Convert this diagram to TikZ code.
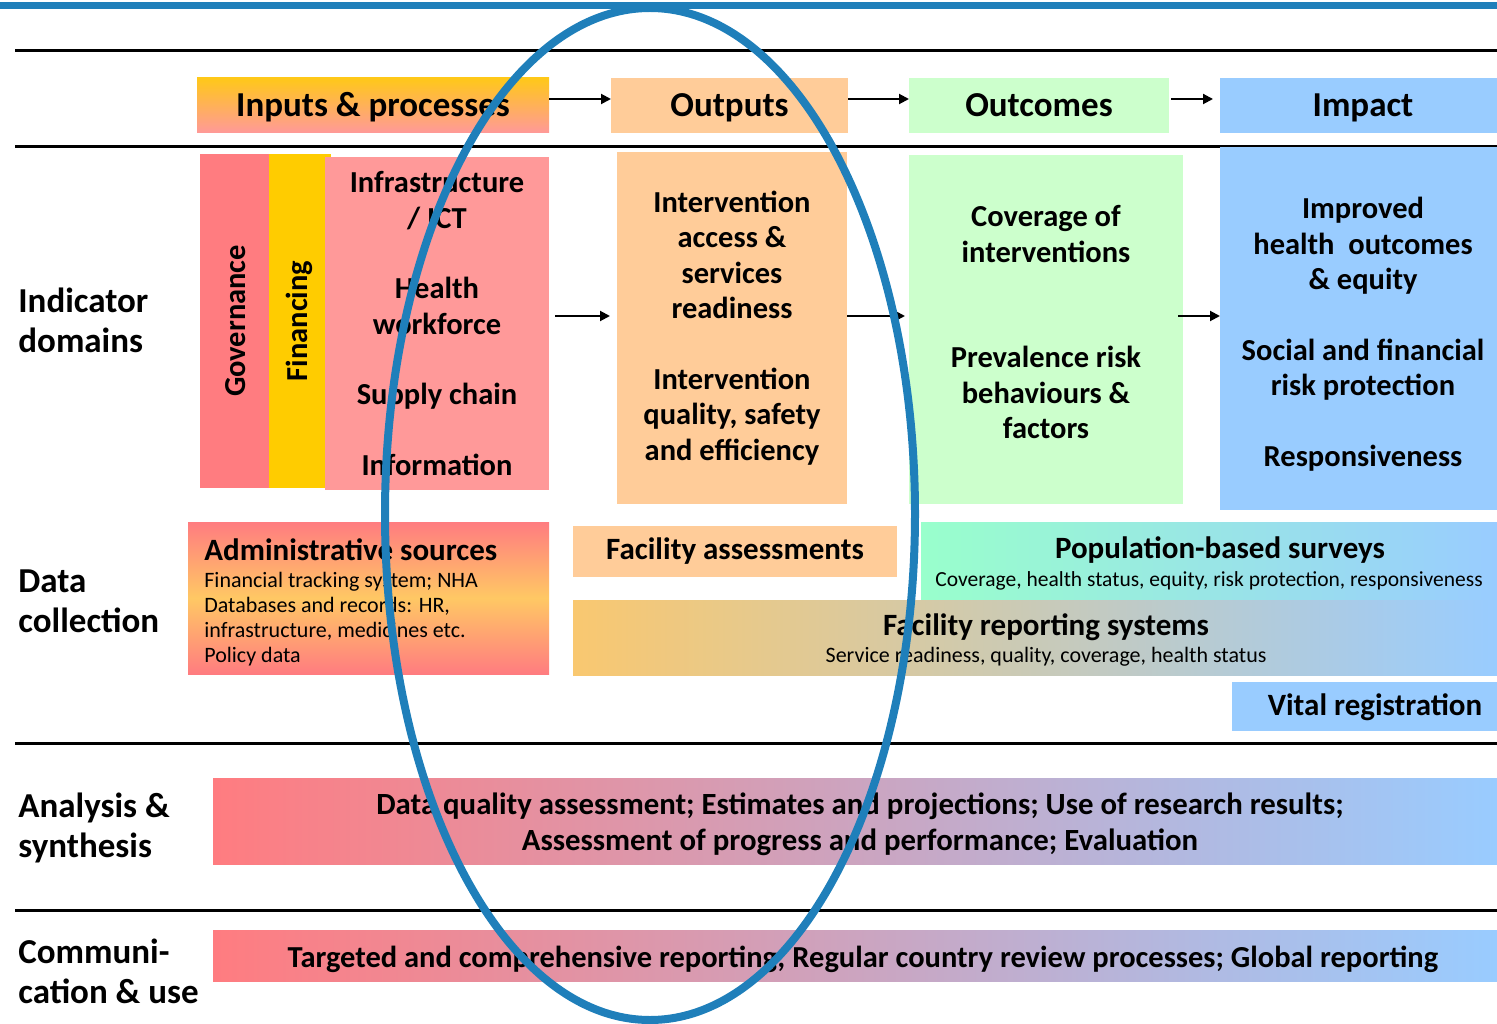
\documentclass[tikz,border=0pt]{standalone}
\usepackage{fontspec}
\setmainfont{Carlito}
\usetikzlibrary{arrows.meta}

\definecolor{ringblue}{RGB}{31,127,186}
\definecolor{govred}{RGB}{255,124,128}
\definecolor{goldfill}{RGB}{255,204,0}
\definecolor{hdgold}{RGB}{255,200,25}
\definecolor{pinkfill}{RGB}{255,153,153}
\definecolor{peach}{RGB}{255,204,153}
\definecolor{mint}{RGB}{204,255,204}
\definecolor{sky}{RGB}{153,204,255}
\definecolor{seafoam}{RGB}{153,255,204}
\definecolor{admyellow}{RGB}{255,200,100}
\definecolor{repyellow}{RGB}{249,200,112}

\tikzset{every picture/.style={line width=0.75pt}}
\tikzset{
  box/.style={inner sep=0pt, outer sep=0pt, anchor=center},
  hdfont/.style={font={\fontsize{35}{40}\selectfont\bfseries}, text height=31pt, text depth=8.6pt},
  bodyfont/.style={font={\fontsize{30.5}{35.5}\selectfont\bfseries}, align=center},
  sidefont/.style={font={\fontsize{35}{40}\selectfont\bfseries}, align=left, inner sep=0pt},
  subhead/.style={font={\fontsize{31}{36}\selectfont\bfseries}, inner sep=0pt},
  detail/.style={font={\fontsize{22}{25}\selectfont}, inner sep=0pt},
  flow/.style={-{Triangle[length=10pt,width=10pt]}, line width=2pt},
  rowrule/.style={line width=3pt},
  ring/.style={draw=ringblue, line width=8pt},
}

\begin{document}
\begin{tikzpicture}[x=1pt,y=1pt,yscale=-1]
\useasboundingbox (0,0) rectangle (1497,1024);

% rules
\draw [ringblue, line width=7pt] (0,6) -- (1497,6);
\foreach \y in {51,147,743,910}
  \draw [rowrule] (15,\y) -- (1497,\y);

% side labels
\node [sidefont, anchor=west] (lbldom) at (18,320) {Indicator\\domains};
\node [sidefont, anchor=west] (lbldata) at (18,601) {Data\\collection};
\node [sidefont, anchor=west] (lblana) at (18,828) {Analysis \&\\synthesis};
\node [sidefont, anchor=west] (lblcom) at (18,971) {Communi-\\cation \& use};

% header row
\node [box, hdfont, top color=hdgold, bottom color=pinkfill, minimum width=352, minimum height=55] (inp) at (373,105.5) {Inputs \& processes};
\node [box, hdfont, fill=peach, minimum width=237, minimum height=55] (outp) at (729.5,105.5) {Outputs};
\node [box, hdfont, fill=mint, minimum width=260, minimum height=55] (outc) at (1039,105.5) {Outcomes};
\node [box, fill=sky, minimum width=277, minimum height=55] (imp) at (1358.5,105.5) {};
\node [hdfont, inner sep=0pt] (imptxt) at (1363,105.5) {Impact};

\coordinate (hdrow) at (0,99);
\draw [flow] (inp.east |- hdrow) -- (outp.west |- hdrow);
\draw [flow] (outp.east |- hdrow) -- (outc.west |- hdrow);
\draw [flow, shorten <=2pt, shorten >=7pt] (outc.east |- hdrow) -- (imp.west |- hdrow);

% indicator domains
\node [box, fill=govred, minimum width=69, minimum height=334] (gov) at (234.5,321) {};
\node [bodyfont, rotate=90] (govtxt) at (236,321) {Governance};
\node [box, fill=goldfill, minimum width=62, minimum height=334] (fin) at (300,321) {};
\node [bodyfont, rotate=90] (fintxt) at (299,321) {Financing};
\node [box, bodyfont, fill=pinkfill, minimum width=224, minimum height=333] (infra) at (437,323.5)
  {Infrastructure\\/ ICT\\[35pt]Health\\workforce\\[35pt]Supply chain\\[35pt]Information};
\node [box, bodyfont, fill=peach, minimum width=230, minimum height=352] (outpb) at (732,328)
  {Intervention\\access \&\\services\\readiness\\[35pt]Intervention\\quality, safety\\and efficiency};
\node [box, fill=mint, minimum width=274, minimum height=349] (outcb) at (1046,329.5) {};
\node [bodyfont] (outctxt) at (1046,322.5)
  {Coverage of\\interventions\\[70pt]Prevalence risk\\behaviours \&\\factors};
\node [box, fill=sky, minimum width=277, minimum height=363] (impb) at (1358.5,328.5) {};
\node [bodyfont] (impbtxt) at (1363,334)
  {Improved\\health\ \ outcomes\\\& equity\\[35pt]Social and financial\\risk protection\\[35pt]Responsiveness};

\coordinate (dmrow) at (0,316);
\draw [flow, shorten <=6pt, shorten >=7pt] (infra.east |- dmrow) -- (outpb.west |- dmrow);
\draw [flow, shorten >=4pt] (outpb.east |- dmrow) -- (outcb.west |- dmrow);
\draw [flow, shorten <=-5pt] (outcb.east |- dmrow) -- (impb.west |- dmrow);

% data collection
\node [box, top color=govred, bottom color=govred, middle color=admyellow, minimum width=361, minimum height=152] (adm) at (368.5,598) {};
\node [subhead, anchor=west] (admtitle) at (204,550) {Administrative sources};
\node [detail, anchor=north west, align=left] (admtext) at (204,572)
  {Financial tracking system; NHA\\Databases and records: HR,\\infrastructure, medicines etc.\\Policy data};
\node [box, subhead, fill=peach, minimum width=324, minimum height=51] (facass) at (735,551.5) {Facility assessments};
\node [box, left color=seafoam, right color=sky, minimum width=576, minimum height=77] (pop) at (1209,560.5) {};
\node [subhead] (poptitle) at (1220,550) {Population-based surveys};
\node [detail, font={\fontsize{21.5}{25}\selectfont}, anchor=west] (poptext) at (935,581) {Coverage, health status, equity, risk protection, responsiveness};
\node [box, left color=repyellow, right color=sky, minimum width=924, minimum height=75] (facrep) at (1035,637.5) {};
\node [subhead] (reptitle) at (1046,627) {Facility reporting systems};
\node [detail] (reptext) at (1046,657) {Service readiness, quality, coverage, health status};
\node [box, fill=sky, minimum width=265, minimum height=49] (vital) at (1364.5,706.5) {};
\node [subhead] (vitaltxt) at (1375,707) {Vital registration};

% analysis and communication
\node [box, left color=govred, right color=sky, minimum width=1284, minimum height=86] (ana) at (855,821) {};
\node [bodyfont, font={\fontsize{30.8}{36}\selectfont\bfseries}] (anatxt) at (860,824)
  {Data quality assessment; Estimates and projections; Use of research results;\\Assessment of progress and performance; Evaluation};
\node [box, left color=govred, right color=sky, minimum width=1284, minimum height=51] (com) at (855,955.5) {};
\node [bodyfont] (comtxt) at (863,959)
  {Targeted and comprehensive reporting; Regular country review processes; Global reporting};

% outputs ring
\draw [ring] (650,514) ellipse [x radius=265, y radius=506];

\end{tikzpicture}
\end{document}
